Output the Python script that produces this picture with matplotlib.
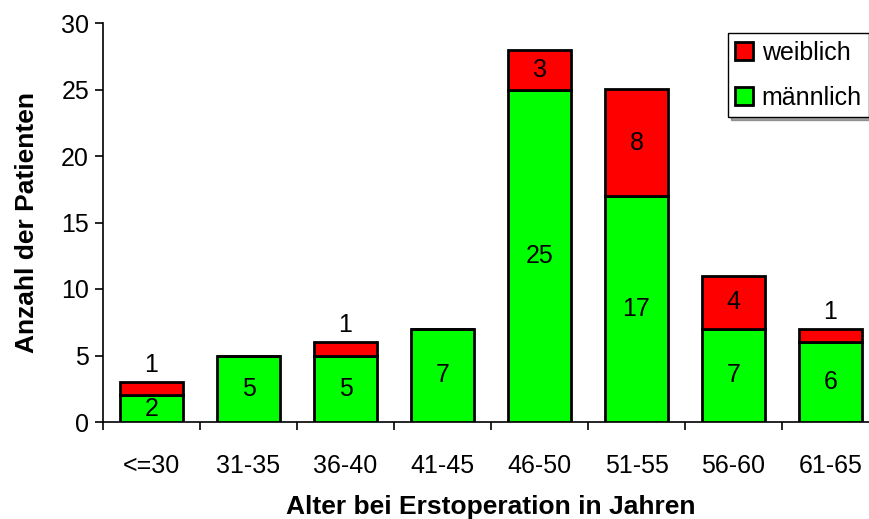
import matplotlib
matplotlib.use("Agg")
import matplotlib.pyplot as plt
from matplotlib.patches import Patch
import numpy as np

plt.rcParams["font.family"] = ["Liberation Sans", "DejaVu Sans"]

# Altersgruppen und Patientenzahlen
groups = ["<=30", "31-35", "36-40", "41-45", "46-50", "51-55", "56-60", "61-65"]
maennlich = [2, 5, 5, 7, 25, 17, 7, 6]
weiblich = [1, 0, 1, 0, 3, 8, 4, 1]

W, H = 870, 519
fig = plt.figure(figsize=(W / 100, H / 100), dpi=100)
ax = fig.add_axes([103 / W, (H - 422) / H, (879 - 103) / W, (422 - 23) / H])

x = np.arange(len(groups))
bw = 0.64
m = np.array(maennlich)
w = np.array(weiblich)
fs = 18

ax.bar(x, m, bw, color="#00ff00", edgecolor="black", linewidth=2, zorder=3)
ax.bar(x, w, bw, bottom=m, color="#ff0000", edgecolor="black", linewidth=2, zorder=3)

# Beschriftung der Segmente
for xi, mv, wv in zip(x, m, w):
    ax.text(xi, mv / 2, str(mv), ha="center", va="center", fontsize=fs, zorder=4)
    if wv == 0:
        continue
    if wv >= 2:
        ax.text(xi, mv + wv / 2, str(wv), ha="center", va="center", fontsize=fs, zorder=4)
    else:
        ax.text(xi, mv + wv + 1.3, str(wv), ha="center", va="center", fontsize=fs, zorder=4)

ax.set_xlim(-0.5, len(groups) - 0.5)
ax.set_ylim(0, 30)
ax.set_yticks(range(0, 31, 5))
ax.set_xticks(x)
ax.set_xticklabels(groups)
ax.set_xticks(np.arange(len(groups) + 1) - 0.5, minor=True)
ax.tick_params(axis="x", which="major", length=0, pad=23, labelsize=fs)
ax.tick_params(axis="x", which="minor", length=6, width=1.2, direction="out")
ax.tick_params(axis="y", length=6, width=1.2, labelsize=fs, pad=4)

for s in ("top", "right"):
    ax.spines[s].set_visible(False)
ax.spines["left"].set_linewidth(1.2)
ax.spines["bottom"].set_linewidth(1.2)

ax.set_xlabel("Alter bei Erstoperation in Jahren", fontsize=19, fontweight="bold", labelpad=12)
ax.set_ylabel("Anzahl der Patienten", fontsize=19, fontweight="bold", labelpad=16)

handles = [Patch(facecolor="#ff0000", edgecolor="black", linewidth=2),
           Patch(facecolor="#00ff00", edgecolor="black", linewidth=2)]
fig.legend(handles, ["weiblich", "männlich"], loc="upper left",
           bbox_to_anchor=(728 / W, 1 - 33 / H), borderaxespad=0, fontsize=fs,
           frameon=True, fancybox=False, shadow=True, edgecolor="black",
           handlelength=0.7, handleheight=0.7, handletextpad=0.35,
           borderpad=0.3, labelspacing=0.85)

fig.savefig("out.png", dpi=100)
